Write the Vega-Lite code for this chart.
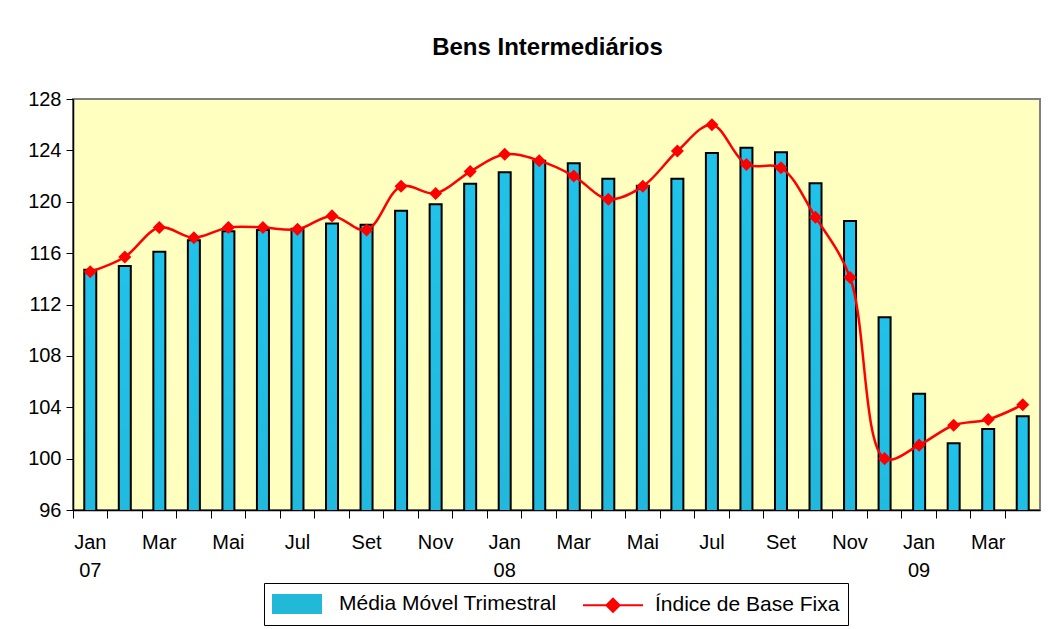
{
  "$schema": "https://vega.github.io/schema/vega-lite/v6.json",
  "width": 967,
  "height": 411,
  "autosize": {"type": "none"},
  "padding": {"left": 73, "top": 99, "right": 18, "bottom": 119},
  "background": "white",
  "title": {"text": "Bens Intermediários", "font": "Liberation Sans", "fontSize": 24, "fontWeight": "bold", "color": "black", "anchor": "middle", "dx": -9, "offset": 29},
  "data": {"values": [
    {"m": "Jan 07", "mmt": 114.7, "ibf": 114.55},
    {"m": "Fev 07", "mmt": 115.0, "ibf": 115.7},
    {"m": "Mar 07", "mmt": 116.1, "ibf": 118.0},
    {"m": "Abr 07", "mmt": 117.0, "ibf": 117.2},
    {"m": "Mai 07", "mmt": 117.7, "ibf": 118.0},
    {"m": "Jun 07", "mmt": 117.8, "ibf": 118.0},
    {"m": "Jul 07", "mmt": 117.9, "ibf": 117.85},
    {"m": "Ago 07", "mmt": 118.3, "ibf": 118.9},
    {"m": "Set 07", "mmt": 118.2, "ibf": 117.8},
    {"m": "Out 07", "mmt": 119.3, "ibf": 121.2},
    {"m": "Nov 07", "mmt": 119.8, "ibf": 120.65},
    {"m": "Dez 07", "mmt": 121.4, "ibf": 122.35},
    {"m": "Jan 08", "mmt": 122.3, "ibf": 123.7},
    {"m": "Fev 08", "mmt": 123.2, "ibf": 123.2},
    {"m": "Mar 08", "mmt": 123.0, "ibf": 122.0},
    {"m": "Abr 08", "mmt": 121.8, "ibf": 120.2},
    {"m": "Mai 08", "mmt": 121.25, "ibf": 121.2},
    {"m": "Jun 08", "mmt": 121.8, "ibf": 123.95},
    {"m": "Jul 08", "mmt": 123.8, "ibf": 126.0},
    {"m": "Ago 08", "mmt": 124.2, "ibf": 122.9},
    {"m": "Set 08", "mmt": 123.85, "ibf": 122.65},
    {"m": "Out 08", "mmt": 121.45, "ibf": 118.8},
    {"m": "Nov 08", "mmt": 118.5, "ibf": 114.1},
    {"m": "Dez 08", "mmt": 111.0, "ibf": 100.0},
    {"m": "Jan 09", "mmt": 105.05, "ibf": 101.05},
    {"m": "Fev 09", "mmt": 101.2, "ibf": 102.6},
    {"m": "Mar 09", "mmt": 102.3, "ibf": 103.05},
    {"m": "Abr 09", "mmt": 103.3, "ibf": 104.2}
  ]},
  "encoding": {
    "x": {
      "field": "m", "type": "ordinal", "sort": null,
      "scale": {"paddingInner": 0, "paddingOuter": 0},
      "axis": {
        "title": null, "labelAngle": 0, "tickSize": 8, "labelPadding": 14,
        "bandPosition": 0,
        "labelLineHeight": 28, "labelBaseline": "top",
        "labelExpr": "slice(datum.value,0,3)=='Jan' ? ['Jan', slice(datum.value,4)] : (indexof(['Mar','Mai','Jul','Set','Nov'], slice(datum.value,0,3)) >= 0 ? slice(datum.value,0,3) : '')"
      }
    }
  },
  "layer": [
    {
      "mark": {
        "type": "bar", "size": 12, "stroke": "black", "strokeWidth": 2, "clip": true,
        "fill": {"gradient": "linear", "x1": 0, "y1": 0, "x2": 0, "y2": 1,
          "stops": [{"offset": 0, "color": "#20C2EA"}, {"offset": 1, "color": "#2B90A8"}]}
      },
      "encoding": {
        "y": {"field": "mmt", "type": "quantitative",
          "scale": {"domain": [96, 128], "zero": false, "nice": false},
          "axis": {"title": null, "values": [96, 100, 104, 108, 112, 116, 120, 124, 128], "tickSize": 7, "labelPadding": 5, "grid": false}}
      }
    },
    {
      "mark": {"type": "line", "interpolate": "catmull-rom", "strokeWidth": 2.5,
        "point": {"shape": "diamond", "size": 170, "filled": true}},
      "encoding": {
        "y": {"field": "ibf", "type": "quantitative",
          "scale": {"domain": [96, 128], "zero": false, "nice": false},
          "axis": {"title": null, "values": [96, 100, 104, 108, 112, 116, 120, 124, 128], "tickSize": 7, "labelPadding": 5, "grid": false}},
        "color": {
          "datum": "Índice de Base Fixa",
          "scale": {"domain": ["Média Móvel Trimestral", "Índice de Base Fixa"], "range": ["#22B8D8", "#FF0000"]},
          "legend": {
            "title": null, "orient": "none", "legendX": 191, "legendY": 484, "direction": "horizontal",
            "strokeColor": "black", "fillColor": "white", "padding": 8,
            "labelFont": "Liberation Sans", "labelFontSize": 21, "labelColor": "black", "labelLimit": 400,
            "symbolSize": 576, "symbolOffset": 12, "labelOffset": 29, "columnPadding": 22,
            "symbolStrokeWidth": 2,
            "encode": {
              "symbols": {
                "update": {
                  "shape": {"signal": "datum.value === 'Média Móvel Trimestral' ? 'M-2,-0.75H2V0.75H-2Z' : 'M-2.5,0H2.5M0,-0.55L0.55,0L0,0.55L-0.55,0Z'"},
                  "fill": {"signal": "datum.value === 'Média Móvel Trimestral' ? '#22B8D8' : '#FF0000'"},
                  "stroke": {"signal": "datum.value === 'Média Móvel Trimestral' ? 'black' : '#FF0000'"},
                  "strokeWidth": {"value": 2},
                  "opacity": {"value": 1}
                }
              }
            }
          }
        }
      }
    }
  ],
  "config": {
    "view": {"fill": "#FFFFC0", "stroke": "#808080", "strokeWidth": 2},
    "axis": {
      "domainColor": "black", "domainWidth": 1.5, "tickColor": "black", "tickWidth": 1,
      "labelColor": "black", "labelFont": "Liberation Sans", "labelFontSize": 20
    }
  }
}
